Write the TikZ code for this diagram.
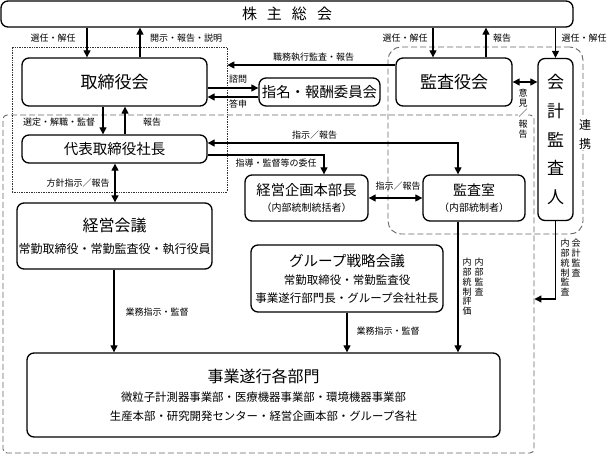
\documentclass[tikz,border=0pt]{standalone}
\usepackage{fontspec}
\setmainfont{Noto Sans CJK JP}
\usepackage{tikz}
\usetikzlibrary{positioning,arrows.meta}

\newcommand{\lblsize}{\fontsize{9}{10}\selectfont}

\begin{document}
\begin{tikzpicture}[x=1pt, y=-1pt,
    box/.style={rectangle, draw, line width=1.3pt, rounded corners=7pt, align=center, inner sep=0pt},
    lbl/.style={font=\lblsize, inner sep=0.5pt, align=center},
    vlbl/.style={font=\fontsize{9}{9.8}\selectfont, inner sep=0pt, align=center, anchor=north},
    con/.style={line width=1.1pt, -{Triangle[length=7pt, width=7pt]}},
    dcon/.style={line width=1.1pt, {Triangle[length=7pt, width=7pt]}-{Triangle[length=7pt, width=7pt]}},
    dotframe/.style={rectangle, draw=black!80, densely dotted, line width=0.7pt, inner sep=0pt},
    dashframe/.style={rectangle, draw=black!60, dash pattern=on 6pt off 3pt, line width=0.9pt, inner sep=0pt}]

    \useasboundingbox (0,0) rectangle (607,454);

    \node[dashframe, rounded corners=4pt, minimum width=531pt, minimum height=338pt] (zentai) at (268.5,284) {};
    \node[dashframe, rounded corners=13pt, minimum width=195pt, minimum height=187pt] (kansa) at (485.5,140.5) {};
    \node[dotframe, minimum width=215pt, minimum height=145pt] (kanri) at (119.5,119.5) {};

    \node[box, minimum width=572pt, minimum height=26pt, font=\fontsize{15}{18}\selectfont] (soukai) at (287,14)
        {株\hspace{10pt}主\hspace{10pt}総\hspace{10pt}会};
    \node[box, minimum width=185pt, minimum height=48pt, font=\fontsize{17}{20}\selectfont] (torishimari) at (114.5,82) {取締役会};
    \node[box, minimum width=121pt, minimum height=28pt, font=\fontsize{14.4}{17}\selectfont] (shimei) at (319.5,92) {指名・報酬委員会};
    \node[box, minimum width=116pt, minimum height=48pt, font=\fontsize{17}{20}\selectfont] (kansayaku) at (454,82) {監査役会};
    \node[box, minimum width=35pt, minimum height=162pt, font=\fontsize{17}{28.8}\selectfont] (kaikei) at (555.5,139.5)
        {会\\計\\監\\査\\人};
    \node[box, minimum width=185pt, minimum height=28pt, font=\fontsize{14.5}{17}\selectfont] (shacho) at (114.5,149) {代表取締役社長};
    \node[box, minimum width=195pt, minimum height=66pt, font=\fontsize{12}{22}\selectfont] (keiei) at (114.5,236)
        {{\fontsize{16}{22}\selectfont 経営会議}\\常勤取締役・常勤監査役・執行役員};
    \node[box, minimum width=123pt, minimum height=46pt, font=\fontsize{10}{16}\selectfont] (kikaku) at (306.5,198)
        {{\fontsize{14.3}{16}\selectfont 経営企画本部長}\\（内部統制統括者）};
    \node[box, minimum width=102pt, minimum height=46pt, font=\fontsize{10}{16}\selectfont] (kansashitsu) at (474,198)
        {{\fontsize{14}{16}\selectfont 監査室}\\（内部統制者）};
    \node[box, minimum width=192pt, minimum height=67pt, font=\fontsize{11.5}{18}\selectfont] (group) at (347,278.5)
        {{\fontsize{14.6}{20}\selectfont グループ戦略会議}\\常勤取締役・常勤監査役\\事業遂行部門長・グループ会社社長};
    \node[box, minimum width=473pt, minimum height=84pt, font=\fontsize{11.4}{19}\selectfont] (jigyo) at (263.5,395)
        {{\fontsize{16}{21}\selectfont 事業遂行各部門}\\微粒子計測器事業部・医療機器事業部・環境機器事業部\\生産本部・研究開発センター・経営企画本部・グループ各社};

    \draw[con] (soukai.south -| 87,0) -- (torishimari.north -| 87,0);
    \draw[con] (torishimari.north -| 140,0) -- (soukai.south -| 140,0);
    \draw[con] (soukai.south -| 433,0) -- (kansayaku.north -| 433,0);
    \draw[con] (kansayaku.north -| 486,0) -- (soukai.south -| 486,0);
    \draw[con] (soukai.south -| kaikei.north) -- (kaikei.north);
    \draw[con] (kansayaku.west |- 0,65) -- (kanri.east |- 0,65);
    \draw[con] (torishimari.east |- 0,88) -- (shimei.west |- 0,88);
    \draw[con] (shimei.west |- 0,97) -- (torishimari.east |- 0,97);
    \draw[dcon] (kansayaku.east) -- (kaikei.west |- kansayaku.east);
    \draw[con] (torishimari.south -| 103,0) -- (shacho.north -| 103,0);
    \draw[con] (shacho.north -| 125,0) -- (torishimari.south -| 125,0);
    \draw[dcon] (shacho.south -| 115,0) -- (keiei.north -| 115,0);
    \draw[dcon] (shacho.east |- 0,143) -| (kansashitsu.north -| 458,0);
    \draw[con] (shacho.east |- 0,155) -| (kikaku.north -| 324,0);
    \draw[dcon] (kikaku.east) -- (kansashitsu.west);
    \draw[con] (keiei.south -| 114,0) -- (jigyo.north -| 114,0);
    \draw[con] (group.south) -- (jigyo.north -| group.south);
    \draw[con] (kansashitsu.south -| 458,0) -- (jigyo.north -| 458,0);
    \draw[con] (kaikei.south) |- (zentai.east |- 0,299);

    \node[lbl] (l1) at (53,38) {選任・解任};
    \node[lbl] (l2) at (186,38) {開示・報告・説明};
    \node[lbl] (l3) at (405,38) {選任・解任};
    \node[lbl] (l4) at (502,38) {報告};
    \node[lbl] (l5) at (584,38) {選任・解任};
    \node[lbl] (l6) at (313.5,57) {職務執行監査・報告};
    \node[lbl] (l7) at (238,79) {諮問};
    \node[lbl] (l8) at (238,104) {答申};
    \node[lbl] (l9) at (59,122) {選定・解職・監督};
    \node[lbl] (l10) at (152,122) {報告};
    \node[lbl] (l11) at (78,183) {方針指示／報告};
    \node[lbl] (l12) at (314.5,135) {指示／報告};
    \node[lbl] (l13) at (276,163) {指導・監督等の委任};
    \node[lbl] (l14) at (398,186) {指示／報告};
    \node[lbl] (l15) at (157,312) {業務指示・監督};
    \node[lbl] (l16) at (388,331) {業務指示・監督};
    \node[lbl, fill=white, font=\fontsize{9}{10.2}\selectfont] (l17) at (523,113.5) {意\\見\\／\\報\\告};
    \node[vlbl] (l18) at (479,258) {内\\部\\監\\査};
    \node[vlbl] (l19) at (467,258) {内\\部\\統\\制\\評\\価};
    \node[vlbl] (l20) at (576,239) {会\\計\\監\\査};
    \node[vlbl] (l21) at (565,239) {内\\部\\統\\制\\監\\査};
    \node[lbl, fill=white, font=\fontsize{12}{19}\selectfont] (l22) at (585,134) {連\\携};
\end{tikzpicture}
\end{document}
